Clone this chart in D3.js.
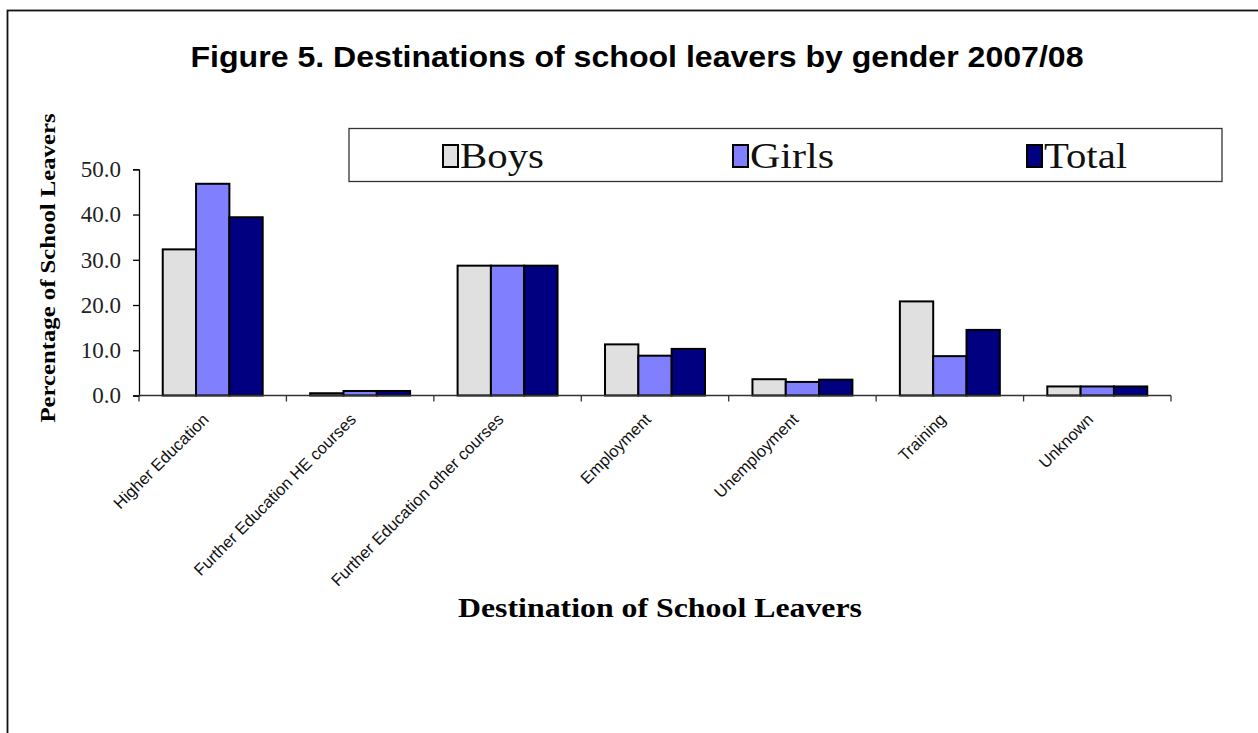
<!DOCTYPE html>
<html>
<head>
<meta charset="utf-8">
<script src="https://cdn.jsdelivr.net/npm/d3@7"></script>
<style>
  html, body { margin: 0; padding: 0; background: #fff; }
  svg { display: block; }
</style>
</head>
<body>
<svg id="chart" width="1258" height="733"></svg>
<script>
const categories = ["Higher Education", "Further Education HE courses", "Further Education other courses", "Employment", "Unemployment", "Training", "Unknown"];
const seriesNames = ["Boys", "Girls", "Total"];
const boys  = [32.3, 0.5, 28.7, 11.3, 3.6, 20.8, 2.0];
const girls = [46.8, 1.0, 28.7, 8.8, 3.0, 8.7, 2.0];
const total = [39.4, 1.0, 28.7, 10.3, 3.5, 14.5, 2.0];
const yTicks = [0, 10, 20, 30, 40, 50];
const colors = ["#E0E0E0", "#8080FF", "#000080"];

const seriesValues = [boys, girls, total];
const svg = d3.select("#chart");

// outer frame
svg.append("rect").attr("x", 7.5).attr("y", 10.5).attr("width", 1300).attr("height", 800)
  .attr("fill", "none").attr("stroke", "#111").attr("stroke-width", 1.8);

const x0 = 139, x1 = 1171, yTop = 169.3, yBot = 395.5;
const x = d3.scaleBand().domain(categories).range([x0, x1]).paddingInner(0).paddingOuter(0);
const bw = x.bandwidth();
const gap = bw * 0.161;
const xs = d3.scaleBand().domain(seriesNames).range([gap, bw - gap]);
const y = d3.scaleLinear().domain([0, 50]).range([yBot, yTop]);

// title
svg.append("text").attr("x", 637).attr("y", 67).attr("text-anchor", "middle")
  .attr("font-family", "Liberation Sans, Arial, sans-serif").attr("font-weight", "bold")
  .attr("font-size", 30).attr("textLength", 893).attr("lengthAdjust", "spacingAndGlyphs")
  .text("Figure 5. Destinations of school leavers by gender 2007/08");

// bars
const data = [];
categories.forEach((c, i) => seriesNames.forEach((s, j) => data.push({c, s, j, v: seriesValues[j][i]})));
svg.append("g").selectAll("rect").data(data).join("rect")
  .attr("x", d => x(d.c) + xs(d.s))
  .attr("y", d => y(d.v))
  .attr("width", xs.bandwidth())
  .attr("height", d => y(0) - y(d.v))
  .attr("fill", d => colors[d.j])
  .attr("stroke", "#000").attr("stroke-width", 2);

// y axis
const yAxis = d3.axisLeft(y).tickValues(yTicks).tickSize(6).tickPadding(12).tickFormat(d3.format(".1f"));
const gy = svg.append("g").attr("transform", `translate(${x0},0)`).call(yAxis);
gy.select(".domain").attr("stroke", "#000").attr("stroke-width", 1.3);
gy.selectAll(".tick line").attr("stroke", "#000").attr("stroke-width", 1.3);
gy.selectAll(".tick text").attr("font-family", "Liberation Serif, Times New Roman, serif")
  .attr("font-size", 23).attr("fill", "#222");

// x axis
const gx = svg.append("g").attr("transform", `translate(0,${yBot})`);
gx.append("line").attr("x1", x0).attr("x2", x1).attr("y1", 0).attr("y2", 0).attr("stroke", "#333").attr("stroke-width", 1.3);
const boundaries = categories.map(c => x(c)).concat([x1]);
gx.selectAll("line.tk").data(boundaries).join("line").attr("class", "tk")
  .attr("x1", d => d).attr("x2", d => d).attr("y1", 0).attr("y2", 6)
  .attr("stroke", "#333").attr("stroke-width", 1.3);
gx.selectAll("text").data(categories).join("text")
  .attr("transform", d => `translate(${x(d) + bw / 2 - 3},${25}) rotate(-45)`)
  .attr("text-anchor", "end")
  .attr("font-family", "Liberation Sans, Arial, sans-serif").attr("font-size", 16.5).attr("fill", "#111")
  .text(d => d);

// axis titles
svg.append("text").attr("transform", "translate(55,268) rotate(-90)").attr("text-anchor", "middle")
  .attr("font-family", "Liberation Serif, Times New Roman, serif").attr("font-weight", "bold")
  .attr("font-size", 22).attr("textLength", 309).attr("lengthAdjust", "spacingAndGlyphs")
  .text("Percentage of School Leavers");
svg.append("text").attr("x", 660).attr("y", 617).attr("text-anchor", "middle")
  .attr("font-family", "Liberation Serif, Times New Roman, serif").attr("font-weight", "bold")
  .attr("font-size", 27).attr("textLength", 404).attr("lengthAdjust", "spacingAndGlyphs")
  .text("Destination of School Leavers");

// legend
svg.append("rect").attr("x", 349).attr("y", 128.5).attr("width", 873).attr("height", 53)
  .attr("fill", "#fff").attr("stroke", "#333").attr("stroke-width", 1.3);
const legendX = [443, 733, 1027];
const legendW = [84, 84, 83];
const lg = svg.append("g").selectAll("g").data(seriesNames).join("g")
  .attr("transform", (d, i) => `translate(${legendX[i]},0)`);
lg.append("rect").attr("x", 0).attr("y", 145).attr("width", 15).attr("height", 22)
  .attr("fill", (d, i) => colors[i]).attr("stroke", "#000").attr("stroke-width", 2);
lg.append("text").attr("x", 17).attr("y", 168)
  .attr("font-family", "Liberation Serif, Times New Roman, serif").attr("font-size", 36).attr("fill", "#111")
  .attr("textLength", (d, i) => legendW[i]).attr("lengthAdjust", "spacingAndGlyphs")
  .text(d => d);
</script>
</body>
</html>
